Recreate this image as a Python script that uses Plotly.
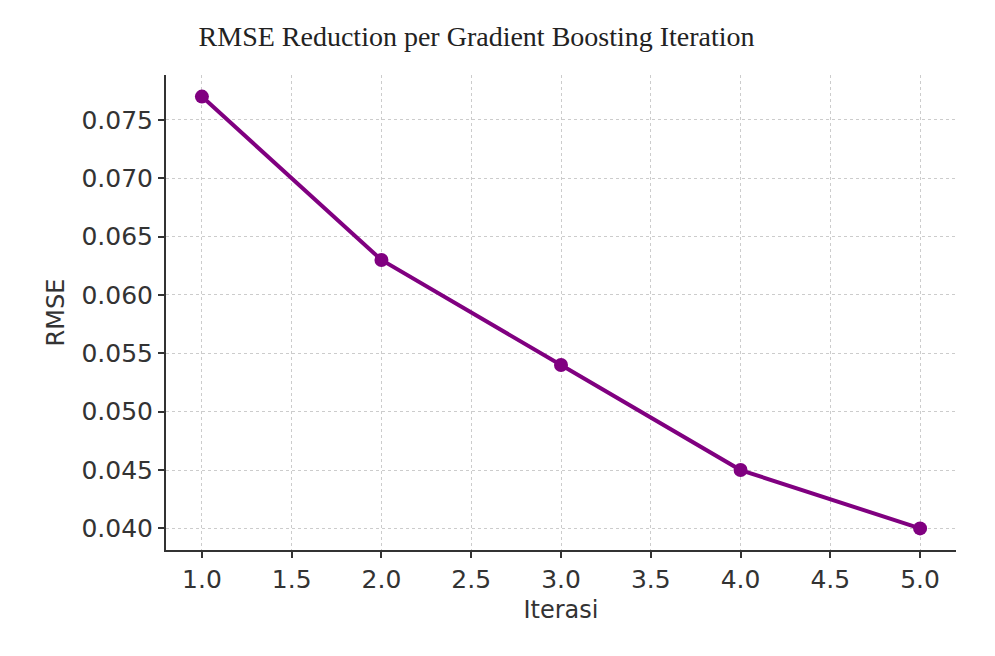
import plotly.graph_objects as go

iterations = [1, 2, 3, 4, 5]
rmse = [0.077, 0.063, 0.054, 0.045, 0.040]
x_ticks = [1.0, 1.5, 2.0, 2.5, 3.0, 3.5, 4.0, 4.5, 5.0]
y_ticks = [0.040, 0.045, 0.050, 0.055, 0.060, 0.065, 0.070, 0.075]

fig = go.Figure()
fig.add_trace(go.Scatter(
    x=iterations, y=rmse, mode="lines+markers",
    line=dict(color="#800080", width=4),
    marker=dict(color="#800080", size=14),
))

axis_common = dict(
    showline=True, linecolor="#333333", linewidth=2,
    ticks="outside", ticklen=6, tickwidth=1.5, tickcolor="#333333",
    showgrid=True, gridcolor="#cccccc", griddash="dot", gridwidth=1.2,
    zeroline=False,
    tickfont=dict(family="DejaVu Sans", size=25, color="#333333"),
    title_font=dict(family="DejaVu Sans", size=24, color="#333333"),
)

fig.update_layout(
    width=995, height=656,
    paper_bgcolor="white", plot_bgcolor="white",
    margin=dict(l=166, r=39, t=75, b=106),
    showlegend=False,
    title=dict(
        text="RMSE Reduction per Gradient Boosting Iteration",
        font=dict(family="Liberation Serif", size=28, color="#222222"),
        xref="container", x=0.479, xanchor="center",
        yref="container", y=0.945, yanchor="middle",
    ),
    xaxis=dict(range=[0.8, 5.2], tickvals=x_ticks,
               ticktext=[f"{v:.1f}" for v in x_ticks],
               title=dict(text="Iterasi", standoff=8), **axis_common),
    yaxis=dict(range=[0.03815, 0.07885], tickvals=y_ticks,
               ticktext=[f"{v:.3f}" for v in y_ticks],
               title=dict(text="RMSE", standoff=10), **axis_common),
)

fig.write_html("out.html")
